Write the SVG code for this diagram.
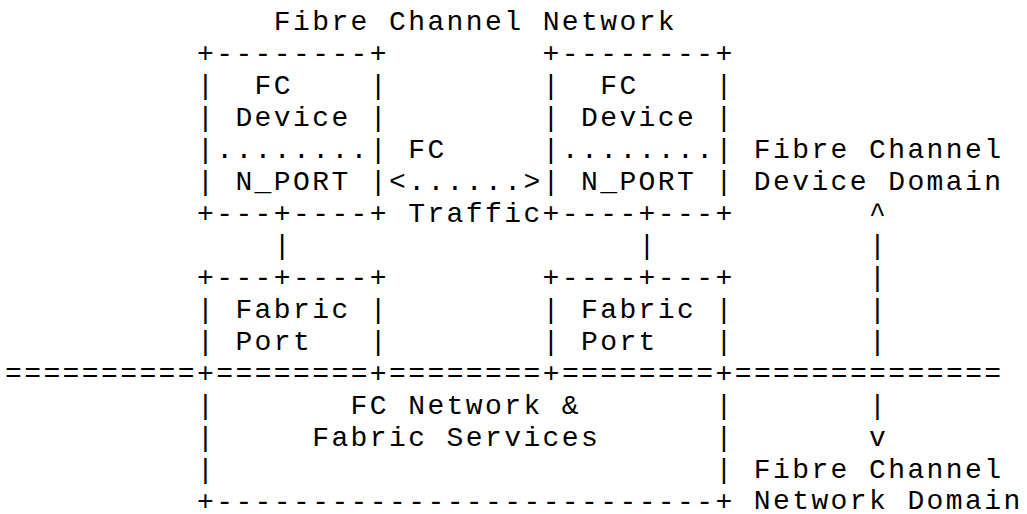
<svg xmlns="http://www.w3.org/2000/svg" width="1027" height="514" viewBox="0 0 1027 514">
<style>
text{font-family:"Liberation Mono","Courier New",monospace;font-size:28px;letter-spacing:2.4px;fill:#000;white-space:pre}
</style>
<rect width="1027" height="514" fill="#fff"/>
<g id="title"><text x="273.8" y="30">Fibre Channel Network</text></g>
<g id="fc-device-left">
<text x="197" y="62">+--------+</text>
<text x="197" y="94">|</text><text x="254.6" y="94">FC</text><text x="369.8" y="94">|</text>
<text x="197" y="126">|</text><text x="235.4" y="126">Device</text><text x="369.8" y="126">|</text>
<text x="197" y="158">|........|</text>
<text x="197" y="190">|</text><text x="235.4" y="190">N_PORT</text><text x="369.8" y="190">|</text>
<text x="197" y="222">+---+----+</text>
</g>
<g id="fc-device-right">
<text x="542.6" y="62">+--------+</text>
<text x="542.6" y="94">|</text><text x="600.2" y="94">FC</text><text x="715.4" y="94">|</text>
<text x="542.6" y="126">|</text><text x="581" y="126">Device</text><text x="715.4" y="126">|</text>
<text x="542.6" y="158">|........|</text>
<text x="542.6" y="190">|</text><text x="581" y="190">N_PORT</text><text x="715.4" y="190">|</text>
<text x="542.6" y="222">+----+---+</text>
</g>
<g id="fabric-port-left">
<text x="197" y="286">+---+----+</text>
<text x="197" y="318">|</text><text x="235.4" y="318">Fabric</text><text x="369.8" y="318">|</text>
<text x="197" y="350">|</text><text x="235.4" y="350">Port</text><text x="369.8" y="350">|</text>
</g>
<g id="fabric-port-right">
<text x="542.6" y="286">+----+---+</text>
<text x="542.6" y="318">|</text><text x="581" y="318">Fabric</text><text x="715.4" y="318">|</text>
<text x="542.6" y="350">|</text><text x="581" y="350">Port</text><text x="715.4" y="350">|</text>
</g>
<g id="domain-boundary"><text x="5" y="382">==========+========+========+========+==============</text></g>
<g id="network-services">
<text x="197" y="414">|</text><text x="350.6" y="414">FC Network &amp;</text><text x="715.4" y="414">|</text>
<text x="197" y="446">|</text><text x="312.2" y="446">Fabric Services</text><text x="715.4" y="446">|</text>
<text x="197" y="478">|</text><text x="715.4" y="478">|</text>
<text x="197" y="510">+--------------------------+</text>
</g>
<g id="connectors">
<text x="408.2" y="158">FC</text>
<text x="389" y="190">&lt;......&gt;</text>
<text x="408.2" y="222">Traffic</text>
<text x="273.8" y="254">|</text>
<text x="638.6" y="254">|</text>
<text x="869" y="222">^</text>
<text x="869" y="254">|</text>
<text x="869" y="286">|</text>
<text x="869" y="318">|</text>
<text x="869" y="350">|</text>
<text x="869" y="414">|</text>
<text x="869" y="446">v</text>
</g>
<g id="domain-labels">
<text x="753.8" y="158">Fibre Channel</text>
<text x="753.8" y="190">Device Domain</text>
<text x="753.8" y="478">Fibre Channel</text>
<text x="753.8" y="509">Network Domain</text>
</g>
</svg>
